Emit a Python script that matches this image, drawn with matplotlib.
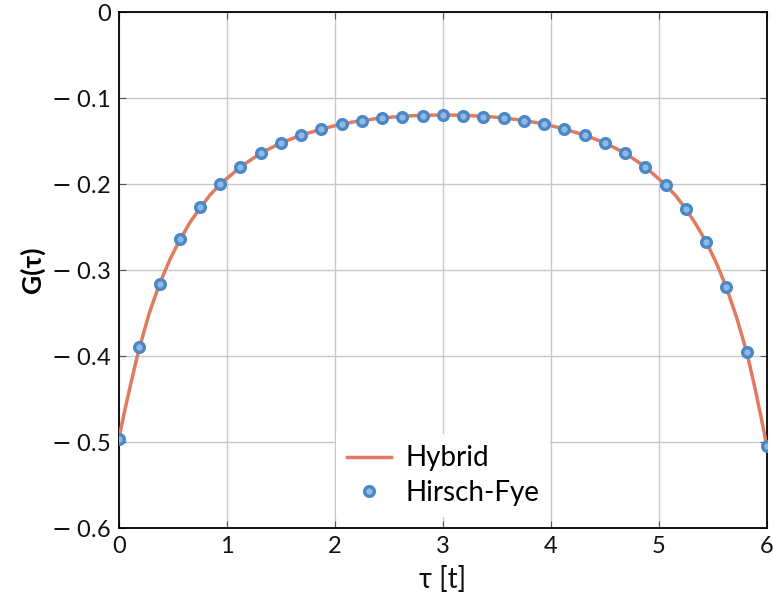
import numpy as np
import matplotlib
matplotlib.use("Agg")
import matplotlib.pyplot as plt

plt.rcParams['font.family'] = ['Lato', 'DejaVu Sans']
plt.rcParams['mathtext.fontset'] = 'dejavusans'

# Hirsch-Fye data (32 time slices)
hf_tau = [i * 6 / 32 for i in range(33)]
hf_g = [-0.497, -0.390, -0.316, -0.264, -0.227, -0.200, -0.180, -0.164, -0.152,
        -0.143, -0.136, -0.130, -0.127, -0.123, -0.122, -0.121, -0.120, -0.121,
        -0.122, -0.123, -0.127, -0.130, -0.136, -0.143, -0.152, -0.164, -0.180,
        -0.201, -0.229, -0.267, -0.320, -0.395, -0.505]

# Hybrid curve
hy_tau = [0.0, 0.05, 0.1, 0.15, 0.1875, 0.28, 0.375, 0.47, 0.5625, 0.66, 0.75,
          0.84, 0.9375, 1.125, 1.3125, 1.5, 1.6875, 1.875, 2.0625, 2.25, 2.4375,
          2.625, 2.8125, 3.0, 3.1875, 3.375, 3.5625, 3.75, 3.9375, 4.125, 4.3125,
          4.5, 4.6875, 4.875, 5.0625, 5.16, 5.25, 5.34, 5.4375, 5.53, 5.625, 5.72,
          5.8125, 5.85, 5.9, 5.95, 6.0]
hy_g = [-0.495, -0.465, -0.437, -0.410, -0.391, -0.350, -0.316, -0.288, -0.265,
        -0.244, -0.228, -0.213, -0.200, -0.180, -0.164, -0.152, -0.143, -0.136,
        -0.130, -0.126, -0.123, -0.121, -0.120, -0.1195, -0.120, -0.121, -0.123,
        -0.126, -0.130, -0.136, -0.143, -0.152, -0.164, -0.180, -0.201, -0.214,
        -0.229, -0.246, -0.267, -0.291, -0.320, -0.355, -0.395, -0.415, -0.443,
        -0.473, -0.505]

xticks = [0, 1, 2, 3, 4, 5, 6]
yticks = [0, -0.1, -0.2, -0.3, -0.4, -0.5, -0.6]
ytick_labels = ['0', '$-$ 0.1', '$-$ 0.2', '$-$ 0.3', '$-$ 0.4', '$-$ 0.5', '$-$ 0.6']

fig = plt.figure(figsize=(7.73, 6.09), dpi=100)
ax = fig.add_axes([0.154, 0.133, 0.838, 0.847])

ax.plot(hy_tau, hy_g, color='#e07b5f', lw=2.5, label='Hybrid', zorder=3)
ax.plot(hf_tau, hf_g, 'o', ls='none', ms=7, mfc='#8fb8e3', mec='#4a87c6',
        mew=2.4, label='Hirsch-Fye', zorder=4)

ax.set_xlim(0, 6)
ax.set_ylim(-0.6, 0)
ax.set_xticks(xticks)
ax.set_yticks(yticks)
ax.set_yticklabels(ytick_labels)
ax.tick_params(direction='in', top=True, right=True, labelsize=17, length=5,
               color='#555555', labelcolor='#111111', pad=6)
ax.grid(True, color='#c8c8c8', lw=1)
for s in ax.spines.values():
    s.set_linewidth(1.3)

ax.set_xlabel('\u03c4 [t]', fontsize=20, color='#111111', labelpad=6)
ax.set_ylabel('G(\u03c4)', fontsize=19, fontweight='bold', labelpad=4)

leg = ax.legend(loc='lower center', bbox_to_anchor=(0.5, -0.005),
                frameon=True, fancybox=False, edgecolor='none', framealpha=1,
                handlelength=1.6, handletextpad=0.5, borderpad=0.4,
                labelspacing=0.3, prop={'size': 20})

fig.savefig('out.png', dpi=100)
